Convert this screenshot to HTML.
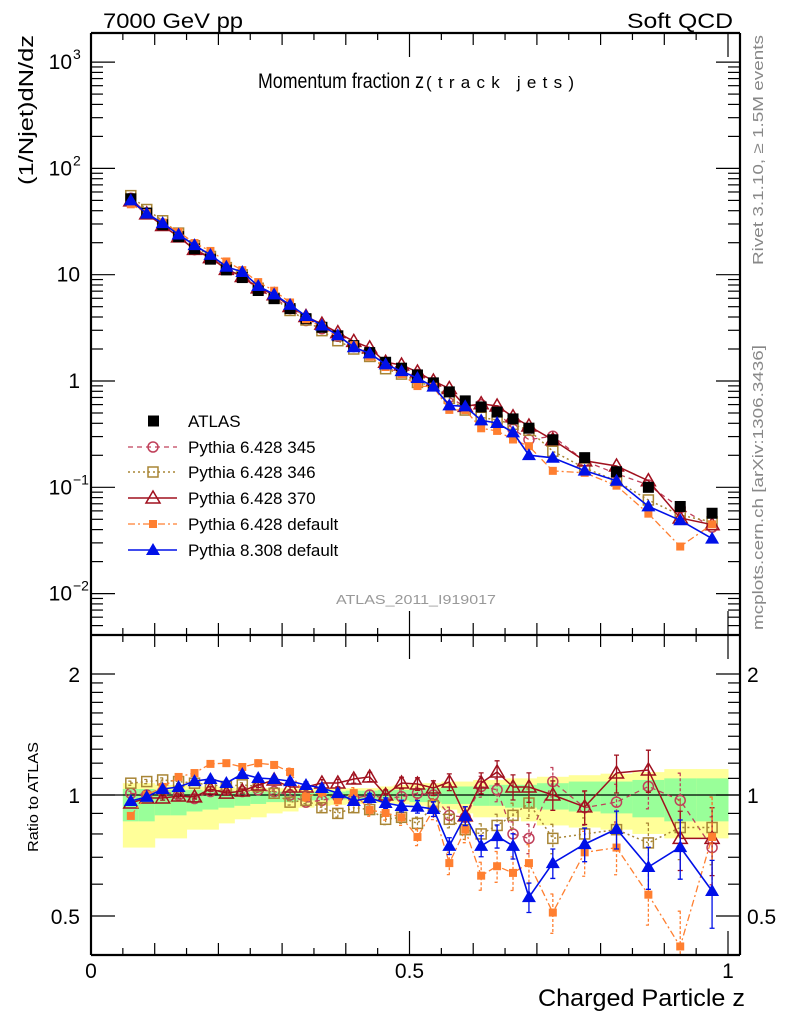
<!DOCTYPE html>
<html><head><meta charset="utf-8"><style>
html,body{margin:0;padding:0;background:#fff;}
svg{display:block;font-family:"Liberation Sans",Arial,sans-serif;}
</style></head><body>
<svg id="chart" width="786" height="1024" viewBox="0 0 786 1024" xmlns="http://www.w3.org/2000/svg">
<defs><clipPath id="clipR"><rect x="92" y="636" width="647" height="318"/></clipPath><clipPath id="clipM"><rect x="92" y="34" width="647" height="600"/></clipPath></defs>
<g id="bands" clip-path="url(#clipR)"></g>
<g id="grid"></g>
<g id="series"></g>
<g id="frame"></g>
<text x="103" y="28" font-size="21" textLength="140" lengthAdjust="spacingAndGlyphs">7000 GeV pp</text>
<text x="733" y="28" font-size="21" text-anchor="end" textLength="106" lengthAdjust="spacingAndGlyphs">Soft QCD</text>
<text x="258" y="88" font-size="21" textLength="166" lengthAdjust="spacingAndGlyphs">Momentum fraction z</text>
<text x="426" y="88" font-size="17" textLength="148" lengthAdjust="spacing">(track jets)</text>
<text transform="translate(33,185) rotate(-90)" font-size="20" textLength="150" lengthAdjust="spacingAndGlyphs">(1/Njet)dN/dz</text>
<text transform="translate(38,852) rotate(-90)" font-size="15" textLength="110" lengthAdjust="spacingAndGlyphs">Ratio to ATLAS</text>
<text x="745" y="1006" font-size="24" text-anchor="end" textLength="207" lengthAdjust="spacingAndGlyphs">Charged Particle z</text>
<text transform="translate(763,265) rotate(-90)" font-size="15" fill="#888" textLength="230" lengthAdjust="spacingAndGlyphs">Rivet 3.1.10, ≥ 1.5M events</text>
<text transform="translate(763,630) rotate(-90)" font-size="15" fill="#888" textLength="285" lengthAdjust="spacingAndGlyphs">mcplots.cern.ch [arXiv:1306.3436]</text>
<text x="416" y="604" font-size="13" fill="#999" text-anchor="middle" textLength="160" lengthAdjust="spacingAndGlyphs">ATLAS_2011_I919017</text>
<g id="legend"></g>
</svg>
<script>
const zCenters=[0.0625,0.0875,0.1125,0.1375,0.1625,0.1875,0.2125,0.2375,0.2625,0.2875,0.3125,0.3375,0.3625,0.3875,0.4125,0.4375,0.4625,0.4875,0.5125,0.5375,0.5625,0.5875,0.6125,0.6375,0.6625,0.6875,0.725,0.775,0.825,0.875,0.925,0.975];
const atlasValues=[51.8,38,29.5,22.8,17.5,14,11.1,9.4,7.1,5.95,4.8,3.86,3.2,2.66,2.15,1.85,1.5,1.32,1.14,0.96,0.79,0.65,0.57,0.51,0.44,0.36,0.28,0.19,0.14,0.10,0.066,0.057];
const yellowLo=[0.74,0.74,0.78,0.78,0.82,0.82,0.85,0.87,0.88,0.90,0.91,0.93,0.94,0.945,0.95,0.955,0.955,0.95,0.94,0.93,0.92,0.90,0.88,0.88,0.88,0.86,0.84,0.83,0.82,0.80,0.78,0.78];
const yellowHi=[1.07,1.07,1.06,1.06,1.05,1.05,1.05,1.04,1.04,1.04,1.04,1.04,1.04,1.04,1.04,1.04,1.05,1.06,1.07,1.07,1.08,1.08,1.09,1.09,1.10,1.10,1.11,1.12,1.13,1.14,1.16,1.16];
const greenLo=[0.86,0.86,0.89,0.89,0.91,0.92,0.93,0.94,0.95,0.96,0.96,0.97,0.97,0.975,0.975,0.975,0.97,0.97,0.96,0.96,0.95,0.95,0.94,0.94,0.93,0.93,0.92,0.91,0.90,0.88,0.86,0.86];
const greenHi=[1.035,1.035,1.03,1.03,1.03,1.025,1.025,1.02,1.02,1.02,1.02,1.02,1.02,1.02,1.025,1.025,1.03,1.03,1.04,1.04,1.05,1.05,1.05,1.06,1.06,1.06,1.07,1.08,1.08,1.09,1.10,1.10];
const mcErr=[0.01,0.01,0.01,0.01,0.01,0.01,0.01,0.01,0.012,0.012,0.014,0.015,0.016,0.018,0.02,0.022,0.025,0.028,0.03,0.035,0.04,0.045,0.05,0.055,0.06,0.07,0.07,0.08,0.09,0.1,0.14,0.16];
const ratio345=[1.01,1.0,1.02,1.0,0.98,1.02,1.03,1.02,1.03,1.02,1.0,0.96,0.97,0.99,0.98,1.0,0.98,0.99,1.01,1.0,0.89,0.88,1.05,1.03,0.80,0.78,1.08,0.93,0.96,1.05,0.97,0.74];
const ratio346=[1.07,1.08,1.09,1.08,1.07,1.06,1.05,1.06,1.05,1.01,0.96,0.97,0.93,0.90,0.93,0.92,0.87,0.88,0.85,0.94,0.87,0.82,0.80,0.84,0.89,0.955,0.78,0.80,0.82,0.76,0.83,0.83];
const ratio370=[0.955,0.983,0.983,0.994,0.989,1.035,1.011,1.023,1.059,1.09,1.047,1.047,1.071,1.071,1.096,1.109,1.0,1.071,1.065,1.041,1.077,0.887,1.071,1.141,1.047,1.047,1.0,0.934,1.134,1.154,0.78,0.78];
const ratioDef6=[0.887,1.0,1.047,1.109,1.134,1.195,1.2,1.174,1.2,1.188,1.141,0.989,1.017,0.97,1.011,0.918,0.902,0.88,0.786,0.92,0.677,0.82,0.63,0.665,0.64,0.677,0.51,0.72,0.74,0.565,0.42,0.786];
const ratioPy8=[0.966,0.989,1.035,1.047,1.083,1.096,1.071,1.128,1.102,1.096,1.083,1.059,1.041,1.011,0.966,0.983,0.955,0.939,0.935,0.923,0.747,0.887,0.747,0.79,0.747,0.557,0.677,0.755,0.823,0.662,0.742,0.577];
const mainTickLabels=["10","10","10","1","10","10"];
const mainTickExp=["3","2","","","−1","−2"];
const mainTickPowers=[3,2,1,0,-1,-2];
const ratioTickValues=[0.5,1,2];
const ratioTickLabels=["0.5","1","2"];
const xTickValues=[0,0.5,1];
const xTickLabels=["0","0.5","1"];

const NS="http://www.w3.org/2000/svg";
const L=91,R=740,T=33,MID=635,B=955;
const xPx=z=>91+637*z;
const yMain=v=>381-106.3*Math.log10(v);
const yRat=r=>795-402*Math.log10(r);
function mk(tag,attrs,parent){const e=document.createElementNS(NS,tag);for(const k in attrs)e.setAttribute(k,attrs[k]);parent.appendChild(e);return e;}
const gB=document.getElementById('bands'),gG=document.getElementById('grid'),gS=document.getElementById('series'),gF=document.getElementById('frame'),gL=document.getElementById('legend');

const edges=[0.05];zCenters.forEach((c,i)=>{const prev=edges[i];edges.push(prev+2*(c-prev));});
zCenters.forEach((c,i)=>{
  const x0=xPx(edges[i]),x1=xPx(edges[i+1]);
  const y=mk('rect',{x:x0,y:yRat(yellowHi[i]),width:x1-x0+0.5,height:yRat(yellowLo[i])-yRat(yellowHi[i]),fill:'#ffff99'},gB);
  
  
  const g=mk('rect',{x:x0,y:yRat(greenHi[i]),width:x1-x0+0.5,height:yRat(greenLo[i])-yRat(greenHi[i]),fill:'#99ff99'},gB);
  
  
});
const one=mk('line',{x1:L,x2:R,y1:yRat(1),y2:yRat(1),stroke:'#000','stroke-width':1.3},gG);



[[L,T,R,T],[L,B,R,B],[L,T,L,B],[R,T,R,B],[L,MID,R,MID]].forEach(a=>{
  const l=mk('line',{x1:a[0],y1:a[1],x2:a[2],y2:a[3],stroke:'#000','stroke-width':2.2},gF);
  
  
});
for(let k=0;k<=20;k++){
  const z=k*0.05,x=xPx(z);const len=(k%10==0)?24:(k%2==0?12:7);
  [[T,1],[MID,1],[MID,-1],[B,-1]].forEach(([y0,d])=>{
    const t=mk('line',{x1:x,x2:x,y1:y0,y2:y0+d*len,stroke:'#000','stroke-width':1.2},gF);
    
    
  });
}
xTickValues.forEach((v,i)=>{
  const t=mk('text',{x:xPx(v),y:978,'font-size':21,'text-anchor':'middle'},gF);t.textContent=xTickLabels[i];
  
  
});
for(let p=-3;p<=3;p++){for(let m=1;m<=9;m++){
  const v=m*Math.pow(10,p),y=yMain(v);if(y<T+1||y>MID-1)continue;const len=m==1?24:12;
  [[L,1],[R,-1]].forEach(([x0,d])=>{
    const t=mk('line',{x1:x0,x2:x0+d*len,y1:y,y2:y,stroke:'#000','stroke-width':1.2},gF);
    
    
  });
}}
mainTickPowers.forEach((p,i)=>{
  const y=yMain(Math.pow(10,p))+7;
  const t=mk('text',{x:mainTickExp[i]?72:80,y:y,'font-size':21,'text-anchor':'end'},gF);t.textContent=mainTickLabels[i];
  
  
  if(mainTickExp[i]){const s=mk('text',{x:73,y:y-10,'font-size':14},gF);s.textContent=mainTickExp[i];
  
  }
});
[0.4,0.5,0.6,0.7,0.8,0.9,1,1.1,1.2,1.3,1.4,1.5,1.6,1.7,1.8,1.9,2].forEach(v=>{
  const y=yRat(v);if(y>B-1||y<MID+1)return;const len=(v==0.5||v==1||v==2)?24:12;
  [[L,1],[R,-1]].forEach(([x0,d])=>{
    const t=mk('line',{x1:x0,x2:x0+d*len,y1:y,y2:y,stroke:'#000','stroke-width':1.2},gF);
    
    
  });
});
ratioTickValues.forEach((v,i)=>{
  const y=yRat(v)+8;
  const a=mk('text',{x:80,y:y,'font-size':21,'text-anchor':'end'},gF);a.textContent=ratioTickLabels[i];
  
  
  const b=mk('text',{x:747,y:y,'font-size':21},gF);b.textContent=ratioTickLabels[i];
  
  
});

function marker(kind,x,y,color,parent){
  let e;
  if(kind=='square')e=mk('rect',{x:x-5.5,y:y-5.5,width:11,height:11,fill:'#000'},parent);
  else if(kind=='circle')e=mk('circle',{cx:x,cy:y,r:5,fill:'none',stroke:color,'stroke-width':1.5},parent);
  else if(kind=='osquare')e=mk('rect',{x:x-5,y:y-5,width:10,height:10,fill:'none',stroke:color,'stroke-width':1.5},parent);
  else if(kind=='otri')e=mk('path',{d:`M${x},${y-7}L${x+7},${y+5}L${x-7},${y+5}Z`,fill:'none',stroke:color,'stroke-width':1.5},parent);
  else if(kind=='fsq')e=mk('rect',{x:x-4,y:y-4,width:8,height:8,fill:color},parent);
  else e=mk('path',{d:`M${x},${y-7}L${x+7},${y+5}L${x-7},${y+5}Z`,fill:color},parent);
  return e;
}
const seriesDefs=[
 {name:'pythia-6428-345',label:'Pythia 6.428 345',r:ratio345,color:'#c0405a',dash:'5,4',m:'circle',w:1.3},
 {name:'pythia-6428-346',label:'Pythia 6.428 346',r:ratio346,color:'#a88535',dash:'2,3',m:'osquare',w:1.5},
 {name:'pythia-6428-370',label:'Pythia 6.428 370',r:ratio370,color:'#a0101e',dash:'',m:'otri',w:1.5},
 {name:'pythia-6428-default',label:'Pythia 6.428 default',r:ratioDef6,color:'#ff7f30',dash:'7,3,2,3',m:'fsq',w:1.3},
 {name:'pythia-8308-default',label:'Pythia 8.308 default',r:ratioPy8,color:'#0010e8',dash:'',m:'ftri',w:1.6}
];
const gA=mk('g',{'clip-path':'url(#clipM)'},gS);


seriesDefs.forEach((s,idx)=>{
  const gm=mk('g',{'clip-path':'url(#clipM)'},gS);
  
  
  const gr=mk('g',{'clip-path':'url(#clipR)'},gS);
  
  
  const ptsM=zCenters.map((z,i)=>xPx(z)+','+yMain(atlasValues[i]*s.r[i]).toFixed(1)).join(' ');
  const ptsR=zCenters.map((z,i)=>xPx(z)+','+yRat(s.r[i]).toFixed(1)).join(' ');
  const pl=mk('polyline',{points:ptsM,fill:'none',stroke:s.color,'stroke-width':s.w,'stroke-dasharray':s.dash},gm);
  
  
  const pr=mk('polyline',{points:ptsR,fill:'none',stroke:s.color,'stroke-width':s.w,'stroke-dasharray':s.dash},gr);
  
  
  zCenters.forEach((z,i)=>{
    const x=xPx(z),e=mcErr[i]*(s.m=='fsq'?1.6:1.2);
    const y1=yRat(s.r[i]*(1+e)),y2=yRat(s.r[i]*(1-e));
    const eb=mk('path',{d:`M${x},${y1}L${x},${y2}M${x-2.5},${y1}L${x+2.5},${y1}M${x-2.5},${y2}L${x+2.5},${y2}`,stroke:s.color,'stroke-width':1.3,fill:'none','stroke-dasharray':s.dash?'3,2':''},gr);
    
    
    const m1=marker(s.m,x,yMain(atlasValues[i]*s.r[i]),s.color,gm);
    
    
    const m2=marker(s.m,x,yRat(s.r[i]),s.color,gr);
    
    
  });
  if(idx==2)gS.appendChild(gA);
});
zCenters.forEach((z,i)=>{
  const m=marker('square',xPx(z),yMain(atlasValues[i]),'#000',gA);
  
  
});
const rowsY=[421,447,472,498,524,550];
const la=mk('rect',{x:148,y:rowsY[0]-5.5,width:11,height:11,fill:'#000'},gL);


const lt=mk('text',{x:188,y:rowsY[0]+6,'font-size':17},gL);lt.textContent='ATLAS';


seriesDefs.forEach((s,i)=>{
  const y=rowsY[i+1];
  const l=mk('line',{x1:128,x2:177,y1:y,y2:y,stroke:s.color,'stroke-width':s.w,'stroke-dasharray':s.dash},gL);
  
  
  const m=marker(s.m,153,y,s.color,gL);
  
  
  const t=mk('text',{x:188,y:y+6,'font-size':17},gL);t.textContent=s.label;
  
  
});
</script>
</body></html>
